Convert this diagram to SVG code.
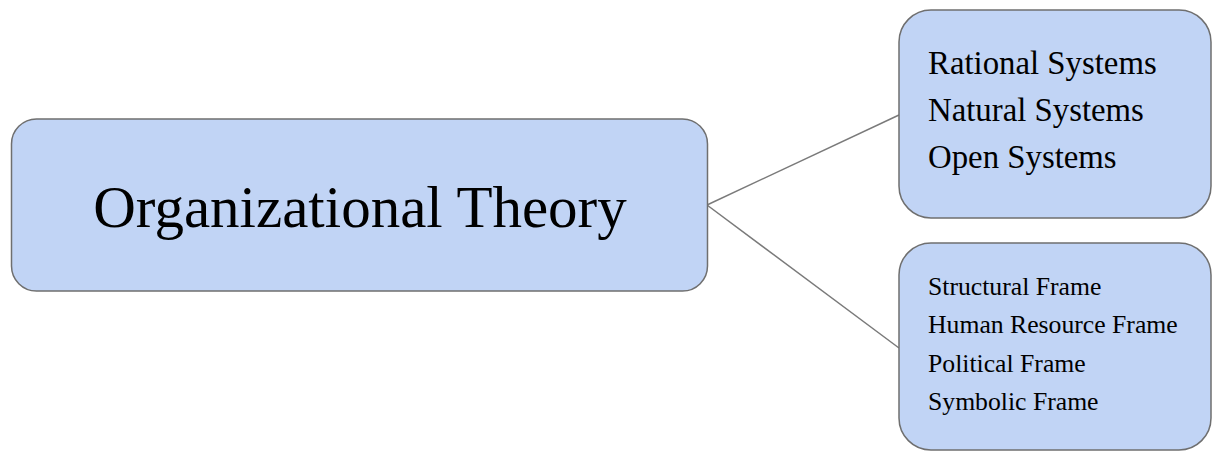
<svg xmlns="http://www.w3.org/2000/svg" width="1212" height="452" viewBox="0 0 1212 452">
<style>
.box{fill:#c1d4f5;stroke:#6f6f6f;stroke-width:1.5}
.conn{stroke:#7a7a7a;stroke-width:1.5;fill:none}
text{font-family:"Liberation Serif","Times New Roman",serif;fill:#000}
.big{font-size:59px}
.mid{font-size:32.8px}
.small{font-size:25.7px}
</style>
<rect width="1212" height="452" fill="#fff"/>
<g id="connectors">
<line class="conn" x1="707" y1="205" x2="899" y2="115"/>
<line class="conn" x1="707" y1="205" x2="899" y2="348"/>
</g>
<g id="organizational-theory">
<rect class="box" x="11.5" y="119" width="696" height="172" rx="25" ry="25"/>
<text class="big" x="360" y="227" text-anchor="middle">Organizational Theory</text>
</g>
<g id="systems">
<rect class="box" x="899" y="10" width="312" height="208" rx="32" ry="32"/>
<text class="mid" x="928" y="74">Rational Systems</text>
<text class="mid" x="928" y="121">Natural Systems</text>
<text class="mid" x="928" y="168">Open Systems</text>
</g>
<g id="frames">
<rect class="box" x="899" y="243" width="312" height="207" rx="32" ry="32"/>
<text class="small" x="928" y="295">Structural Frame</text>
<text class="small" x="928" y="333">Human Resource Frame</text>
<text class="small" x="928" y="372">Political Frame</text>
<text class="small" x="928" y="410">Symbolic Frame</text>
</g>
</svg>
